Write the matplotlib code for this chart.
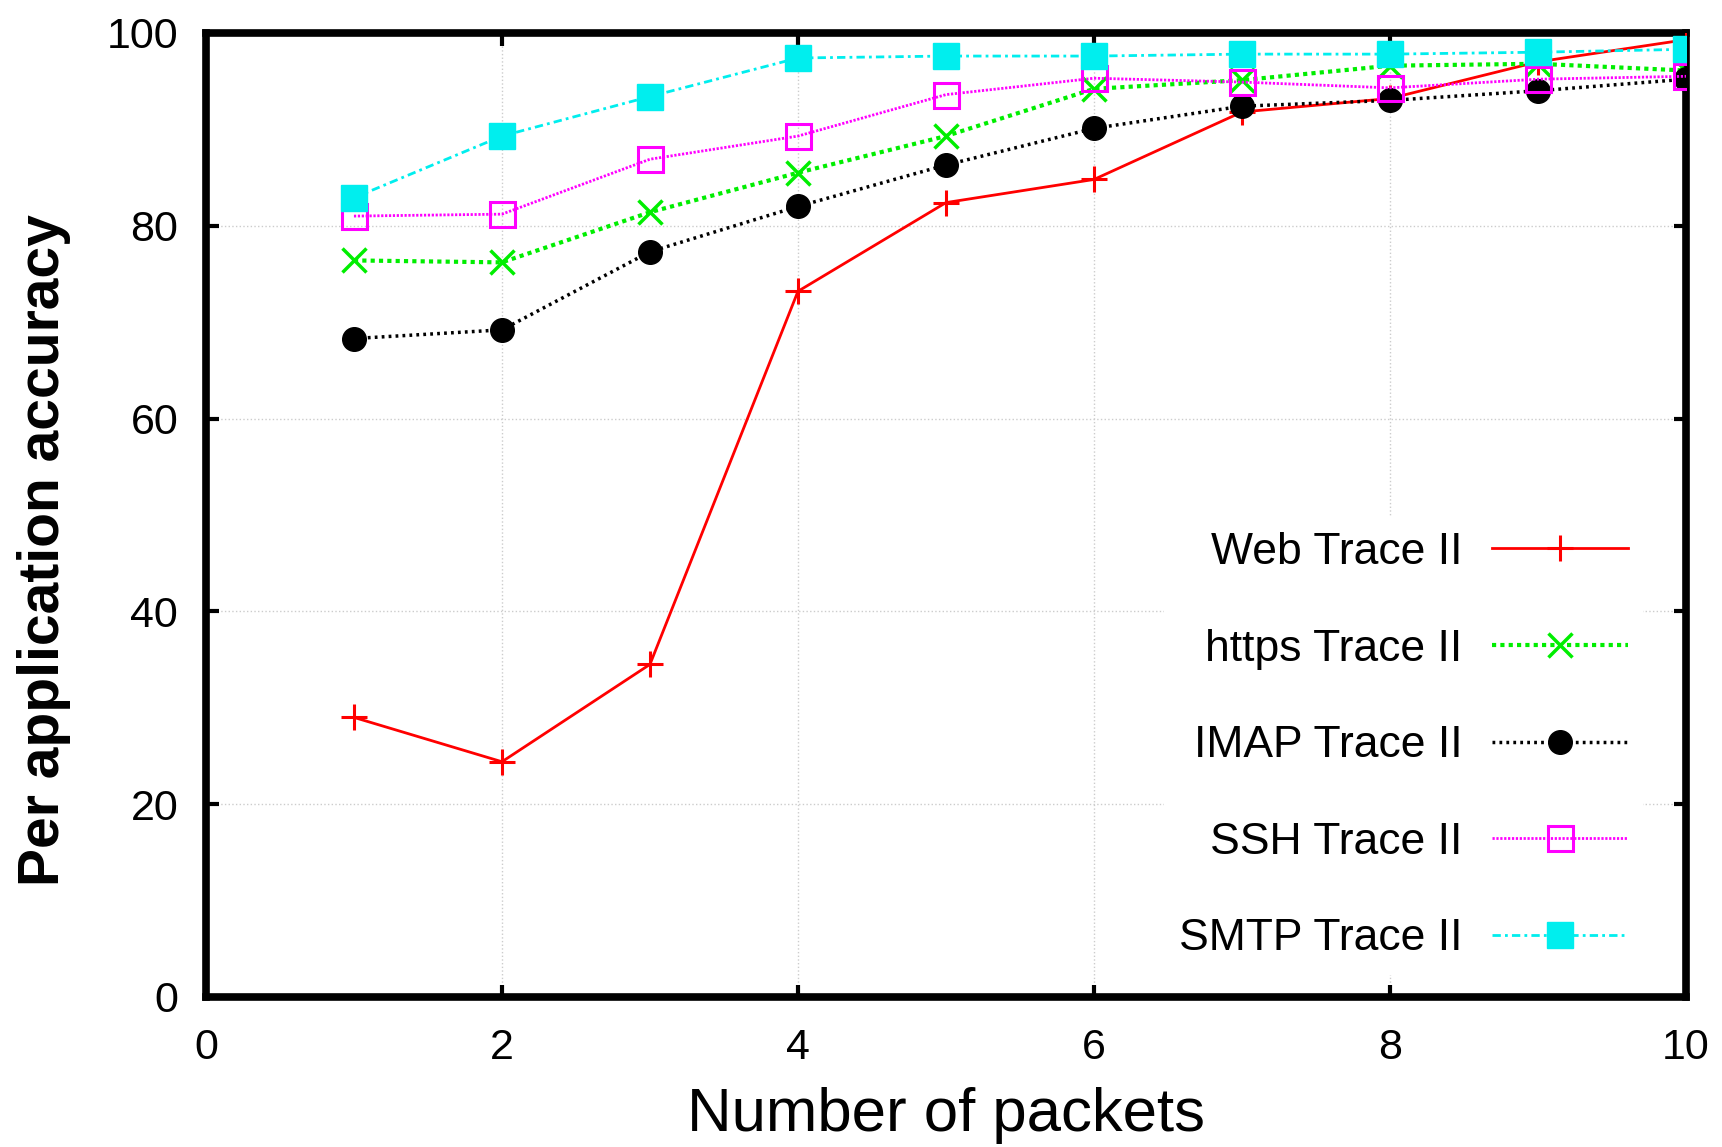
import matplotlib
matplotlib.use("Agg")
import matplotlib.pyplot as plt

plt.rcParams['font.family'] = ['Liberation Sans', 'DejaVu Sans']

packets = [1, 2, 3, 4, 5, 6, 7, 8, 9, 10]
web = [29.0, 24.4, 34.5, 73.2, 82.4, 84.8, 91.8, 93.2, 97.0, 99.3]
https = [76.4, 76.2, 81.4, 85.5, 89.3, 94.2, 95.1, 96.6, 96.8, 96.1]
imap = [68.3, 69.2, 77.3, 82.0, 86.3, 90.1, 92.4, 93.0, 94.0, 95.2]
ssh = [81.0, 81.2, 86.9, 89.3, 93.6, 95.3, 94.9, 94.3, 95.2, 95.5]
smtp = [82.9, 89.3, 93.4, 97.4, 97.6, 97.6, 97.8, 97.8, 98.0, 98.3]
labels = ["Web Trace II", "https Trace II", "IMAP Trace II", "SSH Trace II", "SMTP Trace II"]
xticks = [0, 2, 4, 6, 8, 10]
yticks = [0, 20, 40, 60, 80, 100]

fig = plt.figure(figsize=(17.22, 11.47), dpi=100)
ax = fig.add_axes([0.1196, 0.1308, 0.8595, 0.8405])

ax.plot(packets, web, color='#ff0000', lw=2.0, ls='-', marker='+', ms=19, mew=2.2,
        label=labels[0], zorder=3)
ax.plot(packets, https, color='#00ee00', lw=3.0, ls=(0, (1.0, 1.0)), marker='x', ms=17, mew=2.5,
        label=labels[1], zorder=3)
ax.plot(packets, imap, color='black', lw=2.5, ls=(0, (0.8, 1.2)), marker='o', ms=17,
        label=labels[2], zorder=3)
ax.plot(packets, ssh, color='#ff00ff', lw=2.0, ls=(0, (0.8, 0.6)), marker='s', ms=18, mew=2.2,
        mfc='none', label=labels[3], zorder=3)
ax.plot(packets, smtp, color='#00eeee', lw=2.0, ls=(0, (3, 1.5, 1, 1.5)), marker='s', ms=19,
        label=labels[4], zorder=3)

ax.set_xlim(0, 10)
ax.set_ylim(0, 100)
ax.set_xticks(xticks)
ax.set_yticks(yticks)
ax.tick_params(axis='both', which='both', direction='in', length=9, width=3,
               top=True, right=True, labelsize=31)
ax.tick_params(axis='x', pad=22)
ax.tick_params(axis='y', pad=20)
ax.grid(True, color='#cccccc', ls=':', lw=1.0)
for sp in ax.spines.values():
    sp.set_linewidth(5.5)

ax.set_xlabel("Number of packets", fontsize=44.5, labelpad=14)
ax.set_ylabel("Per application accuracy", fontsize=41, fontweight='bold')
ax.yaxis.set_label_coords(-0.091, 0.4636)

leg = ax.legend(loc='lower right', bbox_to_anchor=(0.986, 0.0), fontsize=32,
                markerfirst=False, frameon=True, facecolor='white', edgecolor='none',
                framealpha=1.0, fancybox=False, labelspacing=1.25, handlelength=3.05,
                handletextpad=0.66, borderpad=0.35)
leg.set_zorder(2.2)
for t in leg.get_texts():
    t.set_ha('right')
leg._legend_box.align = 'right'

fig.savefig("out.png", dpi=100)
